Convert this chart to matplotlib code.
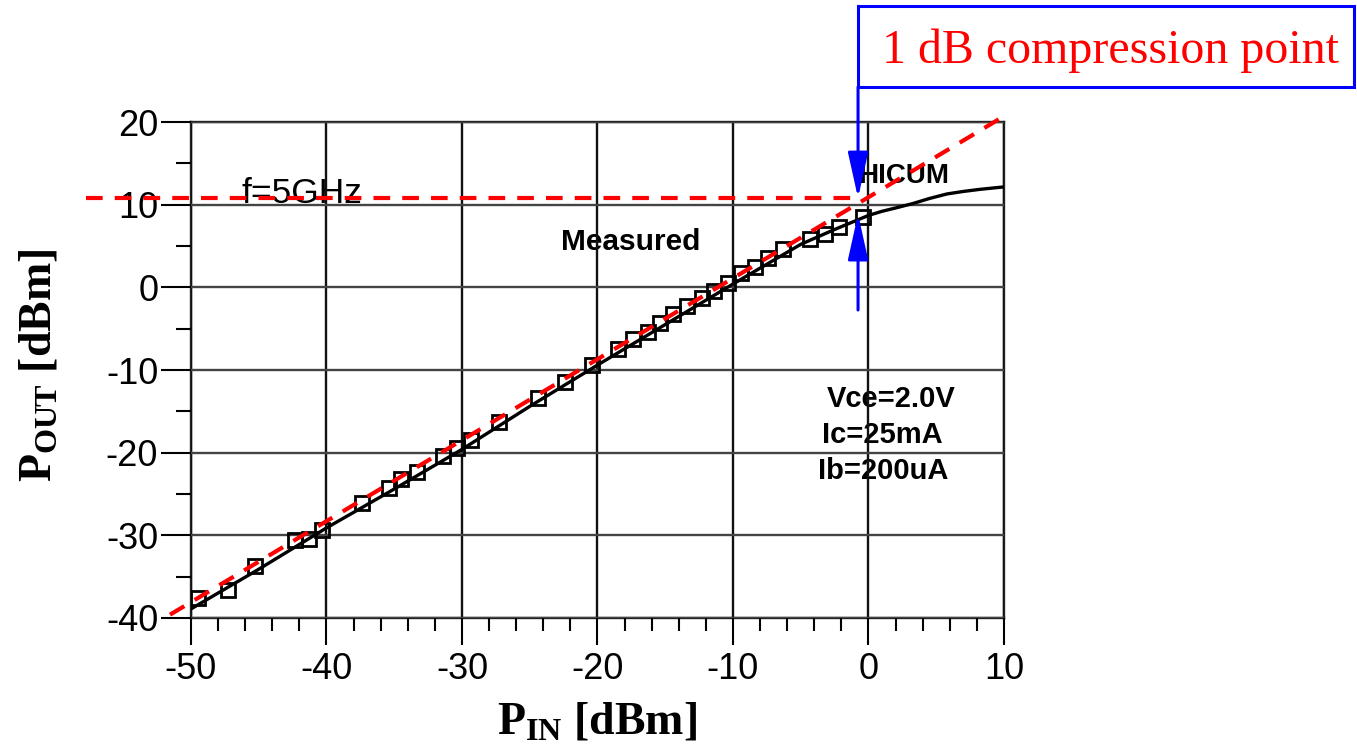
import matplotlib
matplotlib.use("Agg")
import matplotlib.pyplot as plt
from matplotlib.patches import Rectangle
from matplotlib.ticker import MultipleLocator

# ---------------- data ----------------
# HICUM simulation (solid black)
hicum_pin = [-50, -45, -40, -35, -30, -25, -20, -15, -10, -7.5, -5, -2.5, 0, 1, 2, 3.3, 4.5, 5.8, 7, 8.2, 10]
hicum_pout = [-38.9, -34.1, -29.1, -24.4, -19.6, -14.4, -9.4, -4.5, 0.4, 2.8, 5.2, 7.0, 8.7, 9.2, 9.6,
              10.15, 10.75, 11.3, 11.6, 11.85, 12.15]

# Measured (open squares)
meas_pin = [-49.5, -47.3, -45.3, -42.3, -41.3, -40.3, -37.4, -35.4, -34.5, -33.3, -31.4, -30.4, -29.3,
            -27.3, -24.4, -22.4, -20.4, -18.5, -17.4, -16.3, -15.4, -14.4, -13.4, -12.3, -11.4, -10.4,
            -9.4, -8.4, -7.4, -6.3, -4.3, -3.2, -2.2, -0.4]
meas_pout = [-37.6, -36.6, -33.7, -30.6, -30.4, -29.35, -26.1, -24.3, -23.2, -22.3, -20.4, -19.4, -18.5,
             -16.25, -13.4, -11.5, -9.4, -7.4, -6.3, -5.4, -4.35, -3.2, -2.3, -1.3, -0.5, 0.5,
             1.7, 2.5, 3.5, 4.6, 5.9, 6.45, 7.3, 8.55]

# ideal linear extrapolation (red dashed)
lin_pin = [-51.55, 10.0]
lin_pout = [-39.6, 20.7]
# 1 dB compression level (red dashed horizontal)
p1db_pin = [-57.75, -0.77]
p1db_pout = [10.8, 10.8]

x_ticks = [-50, -40, -30, -20, -10, 0, 10]
y_ticks = [-40, -30, -20, -10, 0, 10, 20]

# ---------------- figure ----------------
plt.rcParams['font.family'] = ['Liberation Sans', 'DejaVu Sans']
plt.rcParams['mathtext.fontset'] = 'custom'
plt.rcParams['mathtext.rm'] = 'Liberation Serif'
plt.rcParams['mathtext.bf'] = 'Liberation Serif:bold'

fig = plt.figure(figsize=(13.57, 7.49), dpi=100)
ax = fig.add_axes([0.14075, 0.1749, 0.5991, 0.6622])

ax.set_xlim(-50, 10)
ax.set_ylim(-40, 20)
ax.set_xticks(x_ticks)
ax.set_yticks(y_ticks)
ax.xaxis.set_minor_locator(MultipleLocator(2))
ax.yaxis.set_minor_locator(MultipleLocator(5))

ax.set_axisbelow(False)
ax.grid(True, which='major', axis='x', color='#111111', lw=1.7)
ax.grid(True, which='major', axis='y', color='#444444', lw=1.7)
for s in ax.spines.values():
    s.set_color('#222222')
    s.set_linewidth(1.7)

ax.tick_params(axis='x', which='major', length=19.5, width=1.5, pad=5, labelsize=26, direction='out')
ax.tick_params(axis='x', which='minor', length=9.5, width=1.5, direction='out')
ax.tick_params(axis='y', which='major', length=21.6, width=1.5, pad=2, labelsize=26, direction='out')
ax.tick_params(axis='y', which='minor', length=10.8, width=1.5, direction='out')
ax.set_xticklabels([str(v) for v in x_ticks])
ax.set_yticklabels([str(v) for v in y_ticks])

# curves
ax.plot(hicum_pin, hicum_pout, color='black', lw=2.4, zorder=4)
ax.plot(meas_pin, meas_pout, linestyle='none', marker='s', markersize=10, markerfacecolor='none',
        markeredgecolor='black', markeredgewidth=2.0, zorder=5)
ax.plot(lin_pin, lin_pout, color='#ff0000', lw=3, dashes=(4, 2.9), zorder=6, clip_on=False)
ax.plot(p1db_pin, p1db_pout, color='#ff0000', lw=3, dashes=(4, 2.9), zorder=6, clip_on=False)

# text annotations (behind grid)
ax.text(-46.3, 10.2, 'f=5GHz', fontsize=25.5, ha='left', va='baseline', zorder=1)
ax.text(-0.77, 12.6, 'HICUM', fontsize=20, fontweight='bold', ha='left', va='baseline', zorder=1)
ax.text(-22.7, 4.52, 'Measured', fontsize=21.5, fontweight='bold', ha='left', va='baseline', zorder=1)
ax.text(-3.06, -14.47, 'Vce=2.0V', fontsize=21, fontweight='bold', ha='left', va='baseline', zorder=1)
ax.text(-3.43, -18.83, 'Ic=25mA', fontsize=21, fontweight='bold', ha='left', va='baseline', zorder=1)
ax.text(-3.73, -23.18, 'Ib=200uA', fontsize=21, fontweight='bold', ha='left', va='baseline', zorder=1)

# 1 dB compression point annotation
xb = -0.77
box = Rectangle((xb, 24.23), 35.83 - xb, 34.03 - 24.23, fill=False, edgecolor='#0000ff',
                lw=2.2, clip_on=False, zorder=7)
ax.add_patch(box)
ax.text(1.0, 27.14, '1 dB compression point', fontsize=34.5, color='#ff0000',
        family='Liberation Serif', ha='left', va='baseline', zorder=8, clip_on=False)
arrow_style = '-|>,head_length=2.8,head_width=0.62'
ax.annotate('', xy=(xb, 10.8), xytext=(xb, 24.23), annotation_clip=False,
            arrowprops=dict(arrowstyle=arrow_style, color='#0000ff', lw=2.2,
                            shrinkA=0, shrinkB=0), zorder=8)
ax.annotate('', xy=(xb, 8.87), xytext=(xb, -2.74), annotation_clip=False,
            arrowprops=dict(arrowstyle=arrow_style, color='#0000ff', lw=2.2,
                            shrinkA=0, shrinkB=0), zorder=8)

# axis labels
ax.set_xlabel(r'$\mathbf{P_{IN}}$ [dBm]', fontsize=33, family='Liberation Serif', fontweight='bold')
ax.set_ylabel(r'$\mathbf{P_{OUT}}$ [dBm]', fontsize=33, family='Liberation Serif', fontweight='bold')
ax.xaxis.set_label_coords(0.5, -0.168)
ax.yaxis.set_label_coords(-0.16, 0.51)

fig.savefig('out.png', dpi=100)
